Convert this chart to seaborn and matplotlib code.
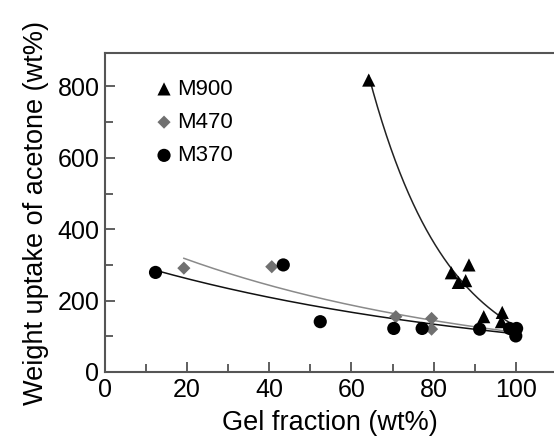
import numpy as np
import pandas as pd
import seaborn as sns
import matplotlib.pyplot as plt
from matplotlib.ticker import MultipleLocator

# values
m900_gel = [64.2, 84.3, 86.0, 87.8, 88.6, 92.2, 96.7, 96.5]
m900_uptake = [818, 278, 251, 256, 300, 155, 167, 141]

m470_gel = [19.2, 40.6, 70.8, 79.5, 79.5, 100.2]
m470_uptake = [291, 295, 155, 150, 120, 122]

m370_gel = [12.3, 43.4, 52.4, 70.3, 77.2, 91.2, 98.5, 100.2, 100.0]
m370_uptake = [279, 300, 141, 122, 122, 120, 122, 122, 101]

series = ["M900", "M470", "M370"]

df = pd.concat([
    pd.DataFrame({"gel": m900_gel, "uptake": m900_uptake, "sample": "M900"}),
    pd.DataFrame({"gel": m470_gel, "uptake": m470_uptake, "sample": "M470"}),
    pd.DataFrame({"gel": m370_gel, "uptake": m370_uptake, "sample": "M370"}),
])

colors = {"M900": "black", "M470": "#707070", "M370": "black"}
line_colors = {"M900": "#222222", "M470": "#8a8a8a", "M370": "#111111"}
markers = {"M900": "^", "M470": "D", "M370": "o"}
sizes = {"M900": 90, "M470": 45, "M370": 90}

plt.rcParams["font.family"] = ["Liberation Sans", "DejaVu Sans"]

fig = plt.figure(figsize=(5.54, 4.42), dpi=100)
ax = fig.add_axes([0.1895, 0.1584, 0.8105, 0.721])

# exponential fits (y = a*exp(b*x)) for each sample
for name in series:
    d = df[df["sample"] == name]
    b, ln_a = np.polyfit(d["gel"], np.log(d["uptake"]), 1)
    xs = np.linspace(d["gel"].min(), 100, 200)
    fit = pd.DataFrame({"gel": xs, "uptake": np.exp(ln_a + b * xs)})
    sns.lineplot(data=fit, x="gel", y="uptake", color=line_colors[name],
                 linewidth=1.1, ax=ax)

for name in series:
    d = df[df["sample"] == name]
    sns.scatterplot(data=d, x="gel", y="uptake", marker=markers[name],
                    color=colors[name], s=sizes[name], edgecolor="none",
                    label=name, ax=ax, zorder=3)

ax.set_xlim(0, 109.3)
ax.set_ylim(0, 893)
ax.xaxis.set_major_locator(MultipleLocator(20))
ax.xaxis.set_minor_locator(MultipleLocator(10))
ax.yaxis.set_major_locator(MultipleLocator(200))
ax.yaxis.set_minor_locator(MultipleLocator(100))
ax.tick_params(which="both", direction="in", labelsize=18, color="#444444",
               width=1.2, pad=4)
ax.tick_params(which="major", length=7)
ax.tick_params(which="minor", length=6)
for side in ["left", "bottom", "top"]:
    ax.spines[side].set_color("#555555")
    ax.spines[side].set_linewidth(1.5)
ax.spines["right"].set_visible(False)

ax.set_xlabel("Gel fraction (wt%)", fontsize=19.5, labelpad=6)
ax.set_ylabel("Weight uptake of acetone (wt%)", fontsize=19.5, labelpad=6)

ax.legend(loc="upper left", bbox_to_anchor=(0.082, 0.955), frameon=False,
          fontsize=16, handlelength=1.0, handletextpad=0.1, labelspacing=0.55,
          borderpad=0)

fig.savefig("out.png", dpi=100)
